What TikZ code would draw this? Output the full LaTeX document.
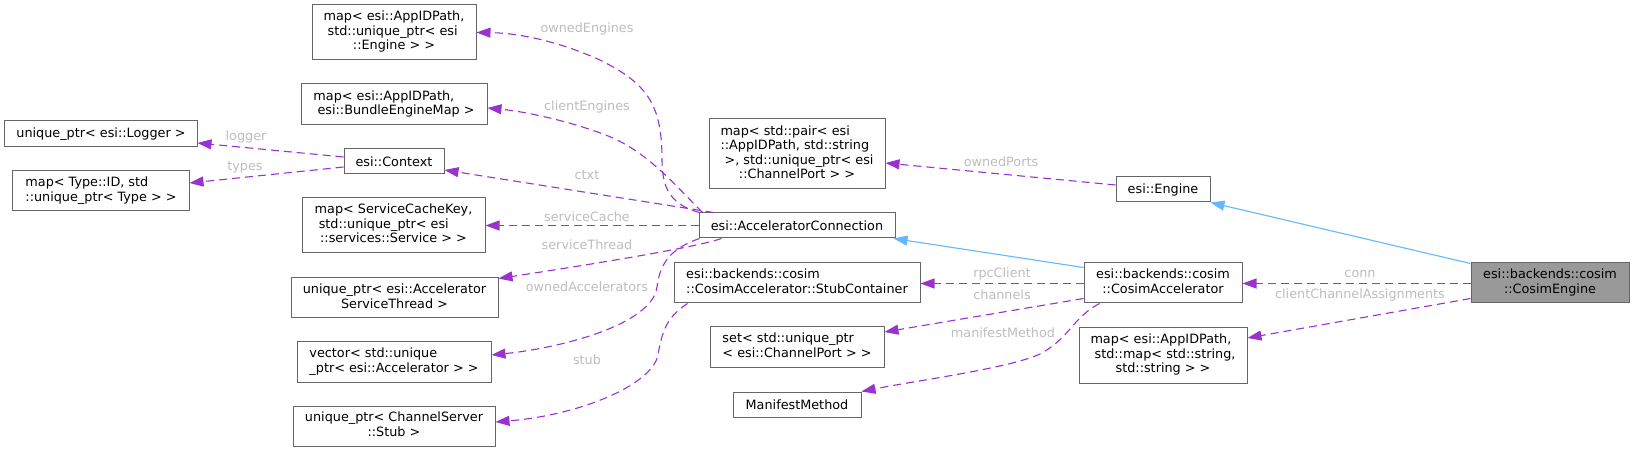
\documentclass[tikz,border=0pt]{standalone}
\usepackage{fontspec}
\newfontfamily\djv{DejaVu Sans}
\usetikzlibrary{arrows.meta,calc}
\definecolor{boxc}{HTML}{666666}
\definecolor{cefill}{HTML}{999999}
\definecolor{purp}{HTML}{9A32CD}
\definecolor{inhb}{HTML}{63B8FF}
\definecolor{labc}{HTML}{BEBEBE}
\newcommand\tl[2]{\begin{tabular}{@{}l@{}}#1\\\multicolumn{1}{@{}c@{}}{#2}\end{tabular}}
\begin{document}
\begin{tikzpicture}[x=1bp,y=-1bp,
  every node/.style={font=\djv\fontsize{12.8bp}{14.4bp}\selectfont},
  box/.style={draw=boxc, line width=1bp, fill=white, inner sep=0pt, align=center},
  mem/.style={draw=purp, line width=1.1bp, dash pattern=on 8bp off 5bp, -{Triangle[length=14bp,width=10bp]}},
  inh/.style={draw=inhb, line width=1.1bp, -{Triangle[length=14bp,width=10bp]}},
  elab/.style={text=labc, inner sep=0pt}]
\fill[white] (0,0) rectangle (1635,451);
\useasboundingbox (0,0) rectangle (1635,451);
% nodes
\node[box, minimum width=164bp, minimum height=55bp] (oe) at (394,32.5) {\tl{map< esi::AppIDPath,\\\ std::unique\_ptr< esi}{::Engine > >}};
\node[box, minimum width=186bp, minimum height=41bp] (bem) at (394,104.5) {\tl{map< esi::AppIDPath,}{\ esi::BundleEngineMap >}};
\node[box, minimum width=192bp, minimum height=26bp] (logger) at (101,134) {unique\_ptr< esi::Logger >};
\node[box, minimum width=100bp, minimum height=25bp] (ctx) at (394,161.5) {esi::Context};
\node[box, minimum width=176bp, minimum height=40bp] (types) at (101,191) {\tl{map< Type::ID, std}{::unique\_ptr< Type > >}};
\node[box, minimum width=183bp, minimum height=55bp] (sc) at (393.5,225.5) {\tl{map< ServiceCacheKey,\\\ std::unique\_ptr< esi}{::services::Service > >}};
\node[box, minimum width=207bp, minimum height=40bp] (st) at (394.5,298) {\tl{unique\_ptr< esi::Accelerator}{ServiceThread >}};
\node[box, minimum width=194bp, minimum height=40bp] (vec) at (394,362) {\tl{vector< std::unique}{\_ptr< esi::Accelerator > >}};
\node[box, minimum width=202bp, minimum height=40bp] (stub) at (394,426) {\tl{unique\_ptr< ChannelServer}{::Stub >}};
\node[box, minimum width=176bp, minimum height=70bp] (cp) at (797,154) {\tl{map< std::pair< esi\\::AppIDPath, std::string\\\ >, std::unique\_ptr< esi}{::ChannelPort > >}};
\node[box, minimum width=196bp, minimum height=25bp] (ac) at (797,225.5) {esi::AcceleratorConnection};
\node[box, minimum width=246bp, minimum height=40bp] (sc2) at (797,283) {\tl{esi::backends::cosim}{::CosimAccelerator::StubContainer}};
\node[box, minimum width=174bp, minimum height=40bp] (set) at (797,347) {\tl{set< std::unique\_ptr}{< esi::ChannelPort > >}};
\node[box, minimum width=128bp, minimum height=25bp] (mm) at (797,404.5) {ManifestMethod};
\node[box, minimum width=94bp, minimum height=25bp] (eng) at (1163,189.5) {esi::Engine};
\node[box, minimum width=158bp, minimum height=40bp] (ca) at (1163,283) {\tl{esi::backends::cosim}{::CosimAccelerator}};
\node[box, minimum width=168bp, minimum height=55bp] (cca) at (1163,355.5) {\tl{map< esi::AppIDPath,\\\ std::map< std::string,}{std::string > >}};
\node[box, fill=cefill, minimum width=158bp, minimum height=40bp] (ce) at (1550,283) {\tl{esi::backends::cosim}{::CosimEngine}};
% edges
\draw[mem] ($(ac.north west)+(1,0)$) .. controls (672,205) and (662,190) .. (662,160) .. controls (662,105) and (648,84) .. (600,60) .. controls (560,42) and (520,33) .. (oe.east);
\draw[mem] ($(ac.north west)+(4,0)$) .. controls (675,185) and (650,155) .. (613,138) .. controls (580,124) and (530,112) .. ($(bem.east)+(0,3.5)$);
\draw[mem] ($(ac.north west)+(15,0)$) -- ($(ctx.east)+(0,8.5)$);
\draw[mem] (ac.west) -- (sc.east);
\draw[mem] ($(ac.south west)+(23,0)$) .. controls (700,246) and (620,260) .. ($(st.north east)+(0,1)$);
\draw[mem] ($(ac.south west)+(1,0)$) .. controls (672,248) and (660,262) .. (657,287) .. controls (652,325) and (560,348) .. ($(vec.east)+(0,-7)$);
\draw[mem] ($(sc2.south west)+(14,0)$) .. controls (668,316) and (662,330) .. (658,355) .. controls (652,385) and (580,415) .. ($(stub.east)+(0,-4)$);
\draw[mem] ($(ca.west)+(0,0.5)$) -- ($(sc2.east)+(0,0.5)$);
\draw[mem] ($(ca.south west)+(0,-5)$) -- ($(set.east)+(0,-15)$);
\draw[mem] ($(ca.south west)+(16,0)$) .. controls (1072,318) and (1070,338) .. (1040,354) .. controls (1010,368) and (920,380) .. (mm.north east);
\draw[mem] ($(ce.west)+(0,0.5)$) -- ($(ca.east)+(0,0.5)$);
\draw[mem] ($(ce.south west)+(0,-5)$) -- ($(cca.east)+(0,-17.5)$);
\draw[mem] ($(ctx.west)+(0,-4.5)$) -- ($(logger.east)+(0,9)$);
\draw[mem] ($(ctx.west)+(0,5.5)$) -- ($(types.east)+(0,-8)$);
\draw[mem] ($(eng.west)+(0,-4.5)$) -- ($(cp.east)+(0,9)$);
\draw[inh] ($(ce.north west)+(0,1)$) -- (eng.south east);
\draw[inh] ($(ca.north west)+(0,5)$) -- ($(ac.south east)+(-2,0)$);
% labels
\node[elab] (l1) at (587,29) {ownedEngines};
\node[elab] (l2) at (587,107) {clientEngines};
\node[elab] (l3) at (587,175) {ctxt};
\node[elab] (l4) at (587,217) {serviceCache};
\node[elab] (l5) at (587,245) {serviceThread};
\node[elab] (l6) at (587,287) {ownedAccelerators};
\node[elab] (l7) at (587,360) {stub};
\node[elab] (l8) at (246,137) {logger};
\node[elab] (l9) at (245,167) {types};
\node[elab] (l10) at (1001,162) {ownedPorts};
\node[elab] (l11) at (1002,274) {rpcClient};
\node[elab] (l12) at (1002,295) {channels};
\node[elab] (l13) at (1003,333) {manifestMethod};
\node[elab] (l14) at (1360,274) {conn};
\node[elab] (l15) at (1360,295) {clientChannelAssignments};
\end{tikzpicture}
\end{document}
